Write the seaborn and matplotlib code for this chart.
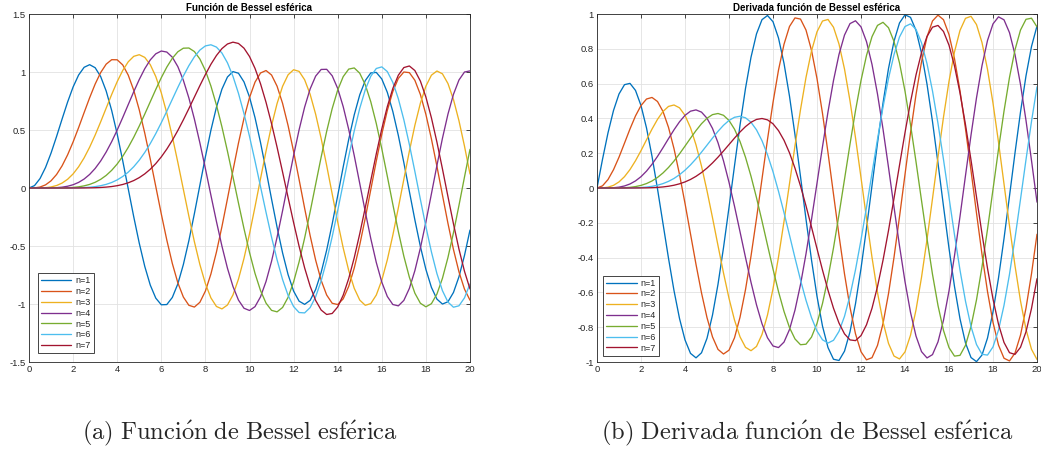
import numpy as np
import pandas as pd
import matplotlib
matplotlib.use("Agg")
import matplotlib.pyplot as plt
import seaborn as sns
from matplotlib.ticker import FixedLocator, FuncFormatter

# ---------------- data ----------------
x_grid = np.linspace(0, 20, 81)          # sample positions 0, 0.25, ..., 20
series_labels = ["n=1", "n=2", "n=3", "n=4", "n=5", "n=6", "n=7"]

# Panel (a): spherical Bessel function curves
s1 = [0, 0.0207, 0.0813, 0.1772, 0.3012, 0.4439, 0.5943, 0.7405, 0.8708, 0.9740,
      1.0405, 1.0631, 1.0370, 0.9608, 0.8362, 0.6681, 0.4644, 0.2355, -0.0064, -0.2480,
      -0.4754, -0.6757, -0.8370, -0.9496, -1.0067, -1.0048, -0.9435, -0.8263, -0.6600, -0.4544,
      -0.2216, 0.0245, 0.2692, 0.4982, 0.6960, 0.8522, 0.9569, 1.0035, 0.9893, 0.9148,
      0.7847, 0.6067, 0.3918, 0.1529, -0.0953, -0.3377, -0.5594, -0.7469, -0.8886, -0.9758,
      -1.0031, -0.9689, -0.8751, -0.7276, -0.5354, -0.3102, -0.0660, 0.1823, 0.4194, 0.6306,
      0.8030, 0.9259, 0.9918, 0.9964, 0.9397, 0.8249, 0.6593, 0.4529, 0.2186, -0.0292,
      -0.2752, -0.5042, -0.7020, -0.8565, -0.9580, -1.0003, -0.9808, -0.9006, -0.7648, -0.5816,
      -0.3624]
s2 = [0, 0.0010, 0.0082, 0.0270, 0.0620, 0.1163, 0.1910, 0.2855, 0.3969, 0.5206,
      0.6502, 0.7781, 0.8959, 0.9951, 1.0676, 1.1061, 1.1051, 1.0612, 0.9732, 0.8427,
      0.6737, 0.4728, 0.2490, 0.0128, -0.2240, -0.4491, -0.6506, -0.8173, -0.9399, -1.0111,
      -1.0266, -0.9851, -0.8884, -0.7412, -0.5529, -0.3326, -0.0931, 0.1511, 0.3875, 0.6010,
      0.7794, 0.9123, 0.9916, 1.0127, 0.9740, 0.8778, 0.7295, 0.5380, 0.3144, 0.0722,
      -0.1744, -0.4106, -0.6221, -0.7964, -0.9228, -0.9937, -1.0047, -0.9553, -0.8481, -0.6898,
      -0.4897, -0.2600, -0.0145, 0.2318, 0.4641, 0.6682, 0.8317, 0.9446, 1.0000, 0.9945,
      0.9285, 0.8058, 0.6340, 0.4235, 0.1871, -0.0607, -0.3047, -0.5302, -0.7232, -0.8719,
      -0.9673]
s3 = [0, 0, 0.0006, 0.0029, 0.0090, 0.0213, 0.0425, 0.0751, 0.1214, 0.1828,
      0.2598, 0.3516, 0.4562, 0.5701, 0.6888, 0.8066, 0.9170, 1.0130, 1.0878, 1.1350,
      1.1491, 1.1260, 1.0633, 0.9608, 0.8201, 0.6455, 0.4430, 0.2209, -0.0113, -0.2429,
      -0.4629, -0.6601, -0.8244, -0.9474, -1.0212, -1.0423, -1.0087, -0.9218, -0.7853, -0.6066,
      -0.3950, -0.1617, 0.0804, 0.3181, 0.5381, 0.7278, 0.8766, 0.9758, 1.0196, 1.0052,
      0.9333, 0.8079, 0.6359, 0.4271, 0.1936, -0.0511, -0.2929, -0.5175, -0.7119, -0.8645,
      -0.9663, -1.0112, -0.9965, -0.9229, -0.7946, -0.6193, -0.4072, -0.1709, 0.0755, 0.3175,
      0.5405, 0.7312, 0.8781, 0.9725, 1.0086, 0.9842, 0.9006, 0.7629, 0.5793, 0.3608,
      0.1206]
s4 = [0, 0, 0, 0.0002, 0.0010, 0.0030, 0.0072, 0.0151, 0.0282, 0.0483,
      0.0773, 0.1169, 0.1684, 0.2328, 0.3101, 0.3996, 0.4996, 0.6072, 0.7189, 0.8300,
      0.9351, 1.0285, 1.1043, 1.1568, 1.1808, 1.1720, 1.1277, 1.0464, 0.9286, 0.7766,
      0.5946, 0.3889, 0.1670, -0.0626, -0.2881, -0.5012, -0.6914, -0.8487, -0.9662, -1.0365,
      -1.0559, -1.0227, -0.9380, -0.8055, -0.6316, -0.4249, -0.1959, 0.0434, 0.2803, 0.5023,
      0.6971, 0.8541, 0.9645, 1.0220, 1.0232, 0.9676, 0.8583, 0.7010, 0.5045, 0.2795,
      0.0388, -0.2042, -0.4355, -0.6420, -0.8117, -0.9350, -1.0044, -1.0160, -0.9689, -0.8657,
      -0.7123, -0.5174, -0.2925, -0.0505, 0.1945, 0.4281, 0.6366, 0.8076, 0.9312, 0.9998,
      1.0095]
s5 = [0, 0, 0, 0, 0.0001, 0.0003, 0.0010, 0.0025, 0.0053, 0.0102,
      0.0184, 0.0309, 0.0492, 0.0746, 0.1086, 0.1525, 0.2071, 0.2729, 0.3500, 0.4376,
      0.5341, 0.6372, 0.7437, 0.8498, 0.9510, 1.0423, 1.1184, 1.1743, 1.2052, 1.2069,
      1.1764, 1.1117, 1.0124, 0.8791, 0.7161, 0.5267, 0.3173, 0.0960, -0.1300, -0.3502,
      -0.5553, -0.7363, -0.8844, -0.9925, -1.0548, -1.0677, -1.0299, -0.9426, -0.8093, -0.6362,
      -0.4314, -0.2050, 0.0319, 0.2671, 0.4885, 0.6845, 0.8446, 0.9603, 1.0250, 1.0350,
      0.9895, 0.8907, 0.7436, 0.5560, 0.3380, 0.1015, -0.1406, -0.3750, -0.5884, -0.7691,
      -0.9068, -0.9935, -1.0244, -0.9974, -0.9140, -0.7787, -0.5991, -0.3853, -0.1496, 0.0948,
      0.3337]
s6 = [0, 0, 0, 0, 0, 0, 0.0001, 0.0003, 0.0008, 0.0018,
      0.0037, 0.0068, 0.0119, 0.0198, 0.0313, 0.0476, 0.0698, 0.0992, 0.1367, 0.1833,
      0.2398, 0.3065, 0.3831, 0.4690, 0.5628, 0.6623, 0.7650, 0.8672, 0.9653, 1.0546,
      1.1308, 1.1890, 1.2249, 1.2347, 1.2148, 1.1634, 1.0792, 0.9629, 0.8156, 0.6414,
      0.4450, 0.2326, 0.0114, -0.2101, -0.4232, -0.6191, -0.7892, -0.9258, -1.0222, -1.0736,
      -1.0767, -1.0309, -0.9375, -0.8003, -0.6251, -0.4201, -0.1947, 0.0402, 0.2731, 0.4924,
      0.6869, 0.8466, 0.9632, 1.0303, 1.0441, 1.0037, 0.9107, 0.7698, 0.5881, 0.3752,
      0.1423, -0.0983, -0.3335, -0.5507, -0.7380, -0.8849, -0.9834, -1.0278, -1.0155, -0.9470,
      -0.8260]
s7 = [0, 0, 0, 0, 0, 0, 0, 0, 0.0001, 0.0003,
      0.0006, 0.0013, 0.0025, 0.0045, 0.0077, 0.0126, 0.0199, 0.0304, 0.0448, 0.0642,
      0.0895, 0.1218, 0.1619, 0.2105, 0.2683, 0.3354, 0.4115, 0.4960, 0.5875, 0.6841,
      0.7836, 0.8828, 0.9782, 1.0665, 1.1419, 1.2018, 1.2415, 1.2573, 1.2461, 1.2054,
      1.1339, 1.0312, 0.8986, 0.7385, 0.5546, 0.3523, 0.1378, -0.0817, -0.2981, -0.5031,
      -0.6884, -0.8462, -0.9694, -1.0522, -1.0905, -1.0816, -1.0254, -0.9236, -0.7801, -0.6011,
      -0.3942, -0.1690, 0.0643, 0.2944, 0.5103, 0.7014, 0.8581, 0.9724, 1.0382, 1.0519,
      1.0125, 0.9216, 0.7835, 0.6051, 0.3954, 0.1651, -0.0738, -0.3088, -0.5275, -0.7182,
      -0.8706]

# Panel (b): derivative curves
d1 = [0, 0.1646, 0.3169, 0.4454, 0.5403, 0.5939, 0.6013, 0.5608, 0.4739, 0.3452,
      0.1823, -0.0049, -0.2046, -0.4038, -0.5897, -0.7497, -0.8729, -0.9504, -0.9761, -0.9471,
      -0.8638, -0.7302, -0.5534, -0.3431, -0.1116, 0.1276, 0.3603, 0.5725, 0.7513, 0.8858,
      0.9675, 0.9914, 0.9557, 0.8620, 0.7166, 0.5274, 0.3058, 0.0658, -0.1793, -0.4133,
      -0.6225, -0.7939, -0.9170, -0.9842, -0.9913, -0.9378, -0.8268, -0.6651, -0.4625, -0.2315,
      0.0139, 0.2586, 0.4875, 0.6865, 0.8434, 0.9485, 0.9953, 0.9808, 0.9060, 0.7753,
      0.5968, 0.3814, 0.1425, -0.1053, -0.3466, -0.5666, -0.7517, -0.8905, -0.9743, -0.9979,
      -0.9599, -0.8626, -0.7120, -0.5173, -0.2907, -0.0460, 0.2015, 0.4366, 0.6448, 0.8131,
      0.9311]
d2 = [0, 0.0124, 0.0485, 0.1051, 0.1771, 0.2578, 0.3396, 0.4143, 0.4739, 0.5113,
      0.5204, 0.4972, 0.4398, 0.3485, 0.2262, 0.0782, -0.0881, -0.2639, -0.4390, -0.6028,
      -0.7449, -0.8558, -0.9275, -0.9541, -0.9321, -0.8610, -0.7433, -0.5842, -0.3915, -0.1755,
      0.0522, 0.2788, 0.4913, 0.6778, 0.8260, 0.9283, 0.9776, 0.9709, 0.9077, 0.7915,
      0.6288, 0.4287, 0.2029, -0.0355, -0.2724, -0.4938, -0.6863, -0.8385, -0.9410, -0.9875,
      -0.9752, -0.9045, -0.7794, -0.6074, -0.3987, -0.1657, 0.0776, 0.3164, 0.5364, 0.7242,
      0.8683, 0.9600, 0.9936, 0.9670, 0.8817, 0.7427, 0.5585, 0.3401, 0.1010, -0.1445,
      -0.3813, -0.5950, -0.7725, -0.9029, -0.9783, -0.9939, -0.9487, -0.8456, -0.6906, -0.4933,
      -0.2657]
d3 = [0, 0.0006, 0.0047, 0.0153, 0.0350, 0.0652, 0.1060, 0.1567, 0.2147, 0.2768,
      0.3384, 0.3945, 0.4398, 0.4689, 0.4771, 0.4608, 0.4174, 0.3462, 0.2480, 0.1258,
      -0.0158, -0.1706, -0.3310, -0.4884, -0.6340, -0.7589, -0.8551, -0.9155, -0.9350, -0.9106,
      -0.8415, -0.7296, -0.5793, -0.3967, -0.1924, 0.0247, 0.2431, 0.4501, 0.6355, 0.7876,
      0.8979, 0.9596, 0.9686, 0.9239, 0.8272, 0.6837, 0.5008, 0.2888, 0.0595, -0.1740,
      -0.3984, -0.6007, -0.7689, -0.8931, -0.9658, -0.9825, -0.9420, -0.8463, -0.7008, -0.5139,
      -0.2964, -0.0610, 0.1784, 0.4076, 0.6131, 0.7825, 0.9057, 0.9752, 0.9867, 0.9393,
      0.8358, 0.6822, 0.4876, 0.2636, 0.0236, -0.2181, -0.4469, -0.6491, -0.8123, -0.9268,
      -0.9854]
d4 = [0, 0, 0.0003, 0.0016, 0.0050, 0.0117, 0.0232, 0.0407, 0.0651, 0.0970,
      0.1362, 0.1816, 0.2316, 0.2836, 0.3344, 0.3804, 0.4174, 0.4415, 0.4488, 0.4361,
      0.4010, 0.3424, 0.2602, 0.1560, 0.0329, -0.1046, -0.2509, -0.3992, -0.5419, -0.6714,
      -0.7800, -0.8608, -0.9080, -0.9170, -0.8856, -0.8132, -0.7014, -0.5548, -0.3785, -0.1814,
      0.0274, 0.2374, 0.4378, 0.6179, 0.7677, 0.8789, 0.9448, 0.9610, 0.9261, 0.8412,
      0.7103, 0.5399, 0.3391, 0.1186, -0.1095, -0.3326, -0.5381, -0.7143, -0.8510, -0.9403,
      -0.9766, -0.9576, -0.8841, -0.7598, -0.5917, -0.3892, -0.1637, 0.0717, 0.3035, 0.5182,
      0.7033, 0.8478, 0.9431, 0.9836, 0.9666, 0.8928, 0.7666, 0.5951, 0.3883, 0.1583,
      -0.0813]
d5 = [0, 0, 0, 0.0001, 0.0005, 0.0016, 0.0039, 0.0081, 0.0150, 0.0255,
      0.0405, 0.0607, 0.0865, 0.1180, 0.1549, 0.1963, 0.2407, 0.2862, 0.3300, 0.3694,
      0.4010, 0.4217, 0.4282, 0.4178, 0.3882, 0.3382, 0.2674, 0.1766, 0.0677, -0.0558,
      -0.1896, -0.3283, -0.4657, -0.5954, -0.7093, -0.8022, -0.8676, -0.9007, -0.8977, -0.8569,
      -0.7782, -0.6635, -0.5168, -0.3439, -0.1521, 0.0497, 0.2519, 0.4445, 0.6175, 0.7619,
      0.8697, 0.9345, 0.9522, 0.9212, 0.8422, 0.7187, 0.5567, 0.3641, 0.1510, -0.0713,
      -0.2911, -0.4962, -0.6754, -0.8185, -0.9174, -0.9662, -0.9618, -0.9041, -0.7958, -0.6428,
      -0.4532, -0.2376, -0.0079, 0.2228, 0.4415, 0.6357, 0.7942, 0.9077, 0.9695, 0.9758,
      0.9261]
d6 = [0, 0, 0, 0, 0, 0.0002, 0.0005, 0.0013, 0.0028, 0.0054,
      0.0096, 0.0161, 0.0253, 0.0381, 0.0549, 0.0763, 0.1023, 0.1329, 0.1678, 0.2060,
      0.2463, 0.2869, 0.3258, 0.3604, 0.3882, 0.4064, 0.4123, 0.4034, 0.3778, 0.3341,
      0.2718, 0.1912, 0.0936, -0.0189, -0.1414, -0.2710, -0.4022, -0.5286, -0.6452, -0.7449,
      -0.8224, -0.8724, -0.8910, -0.8753, -0.8240, -0.7375, -0.6182, -0.4699, -0.2982, -0.1104,
      0.0854, 0.2802, 0.4646, 0.6295, 0.7663, 0.8678, 0.9281, 0.9433, 0.9120, 0.8347,
      0.7148, 0.5576, 0.3707, 0.1635, -0.0535, -0.2691, -0.4718, -0.6507, -0.7960, -0.8996,
      -0.9556, -0.9603, -0.9132, -0.8164, -0.6746, -0.4955, -0.2886, -0.0650, 0.1629, 0.3825,
      0.5815]
d7 = [0, 0, 0, 0, 0, 0, 0.0001, 0.0002, 0.0004, 0.0010,
      0.0019, 0.0035, 0.0061, 0.0101, 0.0159, 0.0240, 0.0349, 0.0491, 0.0670, 0.0887,
      0.1145, 0.1441, 0.1771, 0.2127, 0.2497, 0.2867, 0.3218, 0.3529, 0.3778, 0.3941,
      0.3994, 0.3917, 0.3690, 0.3298, 0.2745, 0.2020, 0.1136, 0.0115, -0.1026, -0.2240,
      -0.3487, -0.4717, -0.5876, -0.6909, -0.7762, -0.8383, -0.8731, -0.8771, -0.8483, -0.7861,
      -0.6913, -0.5664, -0.4155, -0.2444, -0.0597, 0.1306, 0.3180, 0.4939, 0.6497, 0.7776,
      0.8709, 0.9242, 0.9342, 0.8995, 0.8209, 0.7015, 0.5466, 0.3634, 0.1606, -0.0516,
      -0.2627, -0.4617, -0.6382, -0.7828, -0.8876, -0.9466, -0.9562, -0.9155, -0.8262, -0.6925,
      -0.5213]

xticks = [0, 2, 4, 6, 8, 10, 12, 14, 16, 18, 20]
yticks_a = [-1.5, -1, -0.5, 0, 0.5, 1, 1.5]
yticks_b = [-1, -0.8, -0.6, -0.4, -0.2, 0, 0.2, 0.4, 0.6, 0.8, 1]
title_a = "Función de Bessel esférica"
title_b = "Derivada función de Bessel esférica"
caption_a = r"$\mathrm{(a)\ Funci\acute{o}n\ de\ Bessel\ esf\acute{e}rica}$"
caption_b = r"$\mathrm{(b)\ Derivada\ funci\acute{o}n\ de\ Bessel\ esf\acute{e}rica}$"

colors = ["#0072BD", "#D95319", "#EDB120", "#7E2F8E", "#77AC30", "#4DBEEE", "#A2142F"]

# ---------------- style ----------------
sns.set_style("white")
plt.rcParams["font.family"] = ["Liberation Sans", "DejaVu Sans"]
plt.rcParams["mathtext.fontset"] = "cm"

W, H = 1041, 450
fig = plt.figure(figsize=(W / 100, H / 100), dpi=100)
ax1 = fig.add_axes([29 / W, 1 - 362 / H, 441 / W, 348 / H])
ax2 = fig.add_axes([597 / W, 1 - 362 / H, 440 / W, 348 / H])


def long_frame(series):
    parts = [pd.DataFrame({"x": x_grid, "y": vals, "n": lab})
             for lab, vals in zip(series_labels, series)]
    return pd.concat(parts, ignore_index=True)


df_a = long_frame([s1, s2, s3, s4, s5, s6, s7])
df_b = long_frame([d1, d2, d3, d4, d5, d6, d7])

fmt = FuncFormatter(lambda v, p: f"{v:g}")
axis_col = "#262626"

for ax, df, yt, ttl, bpad in [(ax1, df_a, yticks_a, title_a, 0.95),
                             (ax2, df_b, yticks_b, title_b, 0.7)]:
    sns.lineplot(data=df, x="x", y="y", hue="n", palette=colors,
                 estimator=None, sort=False, linewidth=0.95, ax=ax)
    ax.set_xlim(0, 20)
    ax.set_ylim(yt[0], yt[-1])
    ax.xaxis.set_major_locator(FixedLocator(xticks))
    ax.yaxis.set_major_locator(FixedLocator(yt))
    ax.xaxis.set_major_formatter(fmt)
    ax.yaxis.set_major_formatter(fmt)
    ax.set_xlabel("")
    ax.set_ylabel("")
    ax.grid(True, color="#e2e2e2", linewidth=0.6)
    ax.set_axisbelow(True)
    ax.tick_params(direction="in", length=3.2, width=0.6, colors=axis_col,
                   labelsize=6.8, top=True, right=True, pad=2.5)
    for sp in ax.spines.values():
        sp.set_visible(True)
        sp.set_color(axis_col)
        sp.set_linewidth(0.6)
    ax.set_title(ttl, fontsize=7, fontweight="bold", color="black", pad=2.5)

    handles, labels = ax.get_legend_handles_labels()
    keep = [(h, l) for h, l in zip(handles, labels) if l.startswith("n=")]
    leg = ax.legend([k[0] for k in keep], [k[1] for k in keep], loc="lower left",
                    fontsize=6.5, frameon=True, fancybox=False, framealpha=1,
                    edgecolor=axis_col, handlelength=3.4, handletextpad=0.4,
                    labelspacing=0.2, borderpad=0.35, borderaxespad=bpad)
    leg.get_frame().set_linewidth(0.6)
    for line in leg.get_lines():
        line.set_linewidth(0.95)

fig.text(240 / W, 1 - 439 / H, caption_a, ha="center", va="baseline", fontsize=17.6)
fig.text(807 / W, 1 - 439 / H, caption_b, ha="center", va="baseline", fontsize=17.6)

fig.savefig("out.png", dpi=100)
